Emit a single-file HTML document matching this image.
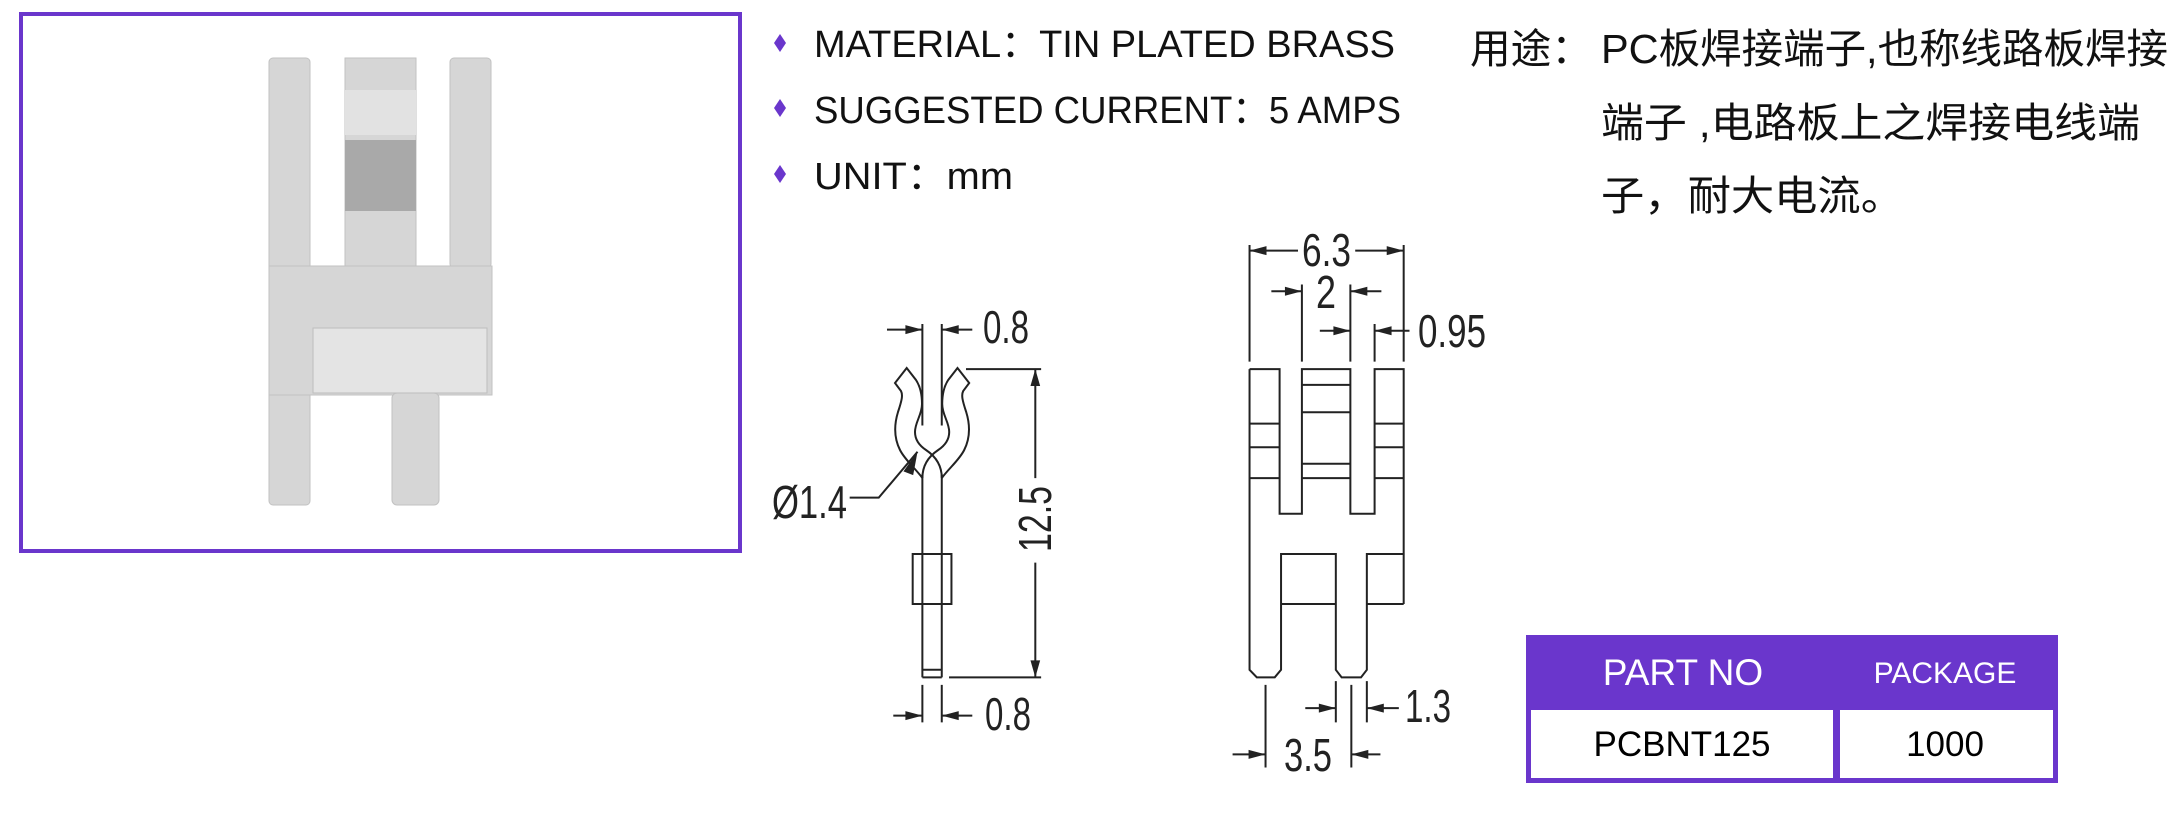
<!DOCTYPE html>
<html><head><meta charset="utf-8"><style>
html,body{margin:0;padding:0;background:#fff;}
svg{display:block;}
</style></head><body>
<svg width="2179" height="816" viewBox="0 0 2179 816" xmlns="http://www.w3.org/2000/svg">
<rect x="0" y="0" width="2179" height="816" fill="#fff"/>
<rect x="21" y="14" width="719" height="537" fill="#fff" stroke="#6a36cc" stroke-width="4"/>
<g fill="#d6d6d6" stroke="#c2c2c2" stroke-width="1">
<rect x="269" y="58" width="41" height="447" rx="4"/>
<rect x="345" y="58" width="71" height="210"/>
<rect x="450" y="58" width="41" height="210" rx="4"/>
<rect x="269" y="266" width="223" height="129"/>
<rect x="392" y="393" width="47" height="112" rx="5"/>
</g>
<rect x="345" y="140" width="71" height="71" fill="#a9a9a9"/>
<rect x="345" y="90" width="71" height="45" fill="#e2e2e2"/>
<rect x="313" y="328" width="174" height="65" fill="#e4e4e4" stroke="#bdbdbd"/>

<g fill="#6a36cc">
<polygon points="780,34 786,43 780,52 774,43"/>
<polygon points="780,99 786,108 780,117 774,108"/>
<polygon points="780,165 786,174 780,183 774,174"/>
</g>
<g font-family="'Liberation Sans','Noto Sans CJK SC',sans-serif" font-size="38" fill="#111">
<text x="814" y="57" textLength="581" lengthAdjust="spacingAndGlyphs">MATERIAL：TIN PLATED BRASS</text>
<text x="814" y="123" textLength="587" lengthAdjust="spacingAndGlyphs">SUGGESTED CURRENT：5 AMPS</text>
<text x="814" y="189" textLength="199" lengthAdjust="spacingAndGlyphs">UNIT：mm</text>
</g>
<g font-family="'Liberation Sans','Noto Sans CJK SC',sans-serif" font-size="41" fill="#111">
<text x="1470" y="63" textLength="122" lengthAdjust="spacingAndGlyphs">用途：</text>
<text x="1601" y="63" textLength="567" lengthAdjust="spacingAndGlyphs">PC板焊接端子,也称线路板焊接</text>
<text x="1601" y="137" textLength="539" lengthAdjust="spacingAndGlyphs">端子 ,电路板上之焊接电线端</text>
<text x="1601" y="210" textLength="303" lengthAdjust="spacingAndGlyphs">子，耐大电流。</text>
</g>

<g transform="translate(760,230) scale(0.4847,0.3759)" fill="none" stroke="#222" stroke-width="2">
<path vector-effect="non-scaling-stroke" d="M335,250V520 M375,250V520 M262,265H335 M375,265H438"/>
<path vector-effect="non-scaling-stroke" d="M335,650V1190 M375,650V1190 M335,1190H375 M335,1170H375"/>
<rect vector-effect="non-scaling-stroke" x="315" y="862" width="80" height="133"/>
<path vector-effect="non-scaling-stroke" d="M425,370H580 M390,1190H580 M568,370V660 M568,885V1190"/>
<path vector-effect="non-scaling-stroke" d="M335,1210V1310 M375,1210V1310 M275,1292H335 M375,1292H438"/>
<path vector-effect="non-scaling-stroke" d="M185,712H245L325,590"/>
<path vector-effect="non-scaling-stroke" d="M1010,40V350 M1328,40V350 M1010,55H1110 M1228,55H1328"/>
<path vector-effect="non-scaling-stroke" d="M1118,145V350 M1218,145V350 M1055,163H1118 M1218,163H1282"/>
<path vector-effect="non-scaling-stroke" d="M1268,250V350 M1155,268H1218 M1268,268H1340"/>
<path vector-effect="non-scaling-stroke" d="M1010,370H1072V755H1118V370H1218V755H1268V370H1328V995"/>
<path vector-effect="non-scaling-stroke" d="M1010,370V1170L1025,1190H1062L1075,1170V862H1188V1170L1200,1190H1240L1252,1170V862H1328"/>
<path vector-effect="non-scaling-stroke" d="M1010,515H1072 M1010,578H1072 M1268,515H1328 M1268,578H1328 M1010,660H1072 M1118,660H1218 M1268,660H1328 M1118,412H1218 M1118,485H1218 M1118,622H1218 M1075,995H1188 M1252,995H1328"/>
<path vector-effect="non-scaling-stroke" d="M1188,1200V1310 M1252,1200V1310 M1125,1272H1188 M1252,1272H1318"/>
<path vector-effect="non-scaling-stroke" d="M1043,1210V1430 M1220,1210V1430 M975,1395H1043 M1220,1395H1280"/>
<g fill="#222" stroke="none">
<polygon points="335,265 300,253 300,277"/><polygon points="375,265 410,253 410,277"/>
<polygon points="335,1292 300,1280 300,1304"/><polygon points="375,1292 410,1280 410,1304"/>
<polygon points="568,370 558,415 578,415"/><polygon points="568,1190 558,1145 578,1145"/>
<polygon points="325,590 296,642 316,652"/>
<polygon points="1010,55 1045,43 1045,67"/><polygon points="1328,55 1293,43 1293,67"/>
<polygon points="1118,163 1083,151 1083,175"/><polygon points="1218,163 1253,151 1253,175"/>
<polygon points="1218,268 1183,256 1183,280"/><polygon points="1268,268 1303,256 1303,280"/>
<polygon points="1188,1272 1153,1260 1153,1284"/><polygon points="1252,1272 1287,1260 1287,1284"/>
<polygon points="1043,1395 1008,1383 1008,1407"/><polygon points="1220,1395 1255,1383 1255,1407"/>
</g>
</g>
<g fill="none" stroke="#222" stroke-width="2">
<path d="M922.4,478 C915,468 905,460 900,450 C894,438 894,425 898,412 C902,400 903,395 901,391 L895,383 L906.7,368 L916,380 C920,386 922,395 922,404 C922,415 915,422 915,432 C915,440 920,446 926,450 C935,456 941.8,465 941.8,478"/>
<path transform="translate(1864.2,0) scale(-1,1)" d="M922.4,478 C915,468 905,460 900,450 C894,438 894,425 898,412 C902,400 903,395 901,391 L895,383 L906.7,368 L916,380 C920,386 922,395 922,404 C922,415 915,422 915,432 C915,440 920,446 926,450 C935,456 941.8,465 941.8,478"/>
</g>
<g font-family="'Liberation Sans',sans-serif" font-size="46" fill="#222">
<text x="983" y="343" textLength="46" lengthAdjust="spacingAndGlyphs">0.8</text>
<text x="985" y="730" textLength="46" lengthAdjust="spacingAndGlyphs">0.8</text>
<text x="772" y="518" textLength="75" lengthAdjust="spacingAndGlyphs">Ø1.4</text>
<text x="1302" y="266" textLength="49" lengthAdjust="spacingAndGlyphs">6.3</text>
<text x="1316" y="308" textLength="20" lengthAdjust="spacingAndGlyphs">2</text>
<text x="1418" y="347" textLength="68" lengthAdjust="spacingAndGlyphs">0.95</text>
<text x="1405" y="722" textLength="46" lengthAdjust="spacingAndGlyphs">1.3</text>
<text x="1284" y="771" textLength="48" lengthAdjust="spacingAndGlyphs">3.5</text>
<text transform="translate(1051,519) rotate(-90)" x="-33" y="0" textLength="66" lengthAdjust="spacingAndGlyphs">12.5</text>
</g>

<rect x="1526" y="635" width="532" height="148" fill="#6a36cc"/>
<rect x="1531" y="710" width="302" height="68" fill="#fff"/>
<rect x="1840" y="710" width="213" height="68" fill="#fff"/>
<g font-family="'Liberation Sans',sans-serif" text-anchor="middle">
<text x="1683" y="685" font-size="37" fill="#fff">PART NO</text>
<text x="1945" y="683" font-size="30" fill="#fff">PACKAGE</text>
<text x="1682" y="756" font-size="35" fill="#000">PCBNT125</text>
<text x="1945" y="756" font-size="35" fill="#000">1000</text>
</g>
</svg>
</body></html>
